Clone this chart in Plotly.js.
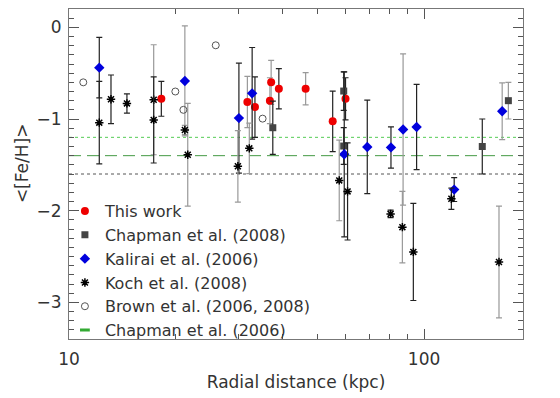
<!DOCTYPE html>
<html>
<head>
<meta charset="utf-8">
<script src="https://cdn.plot.ly/plotly-3.0.1.min.js"></script>
<style>html,body{margin:0;padding:0;background:#fff;}#chart{width:560px;height:398px;}</style>
</head>
<body>
<div id="chart"></div>
<script>
// ---- data (radial distance in kpc, <[Fe/H]>, error) ----
const thisWorkR   = [18.2, 31.8, 33.4, 36.8, 37.1, 39.0, 46.4, 55.3, 60.1];
const thisWorkFe  = [-0.78, -0.815, -0.87, -0.80, -0.60, -0.67, -0.67, -1.025, -0.78];
const thisWorkErr = [0.19, 0.28, 0.33, 0.25, 0.24, 0.22, 0.175, 0.33, 0.23];

const chap08R   = [37.5, 59.4, 59.4, 145.9, 172.8];
const chap08Fe  = [-1.095, -0.695, -1.295, -1.30, -0.80];
const chap08Err = [0.29, 0.21, 0.20, 0.30, 0.20];

const kalR   = [12.17, 21.2, 30.1, 32.8, 59.6, 69.2, 80.7, 87.3, 95.3, 121.6, 166];
const kalFe  = [-0.44, -0.585, -0.99, -0.72, -1.385, -1.305, -1.31, -1.115, -1.087, -1.77, -0.915];
const kalErr = [0.33, 0.60, 0.60, 0.50, 0.90, 0.51, 0.225, 0.825, 0.465, 0.13, 0.31];

const kochR   = [12.17, 13.13, 14.56, 17.32, 17.32, 21.2, 21.6, 29.9, 32.2, 57.7, 60.9, 80.5, 86.9, 93.3, 119.4, 162.6];
const kochFe  = [-1.04, -0.785, -0.83, -1.01, -0.79, -1.12, -1.39, -1.516, -1.32, -1.67, -1.79, -2.035, -2.18, -2.45, -1.87, -2.56];
const kochErr = [0.45, 0.265, 0.105, 0.47, 0.60, 0.05, 0.56, 0.39, 0.275, 0.44, 0.53, 0.04, 0.39, 0.53, 0.115, 0.61];

const brownR  = [10.97, 19.93, 21.0, 25.9, 35.1];
const brownFe = [-0.60, -0.70, -0.90, -0.196, -0.996];

const refLevels = [-1.2, -1.4, -1.6];   // Chapman et al. (2006) mean and spread

const legendNames = ['This work', 'Chapman et al. (2008)', 'Kalirai et al. (2006)',
                     'Koch et al. (2008)', 'Brown et al. (2006, 2008)', 'Chapman et al. (2006)'];

const xTickVals = [10, 100];
const xTickText = ['10', '100'];
const xMinorVals = [20, 30, 40, 50, 60, 70, 80, 90];

// ---- styling of error bars: 'k' = dark, 'g' = grey ----
const thisWorkTone = ['k','g','k','g','g','k','g','k','k'];
const chap08Tone   = ['k','k','k','k','g'];
const kalTone      = ['k','g','k','k','k','k','k','g','k','k','g'];
const kochTone     = ['k','k','k','k','g','g','g','g','g','g','k','k','g','k','k','g'];

const toneColor = {k: '#222222', g: '#999999'};

function split(xs, ys, es, tones, tone) {
  const o = {x: [], y: [], e: []};
  xs.forEach((v, i) => { if (tones[i] === tone) { o.x.push(v); o.y.push(ys[i]); o.e.push(es[i]); } });
  return o;
}

const traces = [];
function addSeries(name, xs, ys, es, tones, marker, order) {
  ['g', 'k'].forEach((tone) => {
    const d = split(xs, ys, es, tones, tone);
    if (!d.x.length) return;
    traces.push({
      type: 'scatter', mode: 'markers', x: d.x, y: d.y, name: name,
      legendgroup: name, showlegend: false,
      marker: marker,
      error_y: {type: 'data', array: d.e, visible: true, color: toneColor[tone], thickness: 1.2, width: 3}
    });
  });
  traces.push({type: 'scatter', mode: 'markers', x: [null], y: [null], name: name,
               legendgroup: name, showlegend: true, legendrank: order, marker: marker});
}

addSeries(legendNames[0], thisWorkR, thisWorkFe, thisWorkErr, thisWorkTone,
          {symbol: 'circle', size: 8, color: '#ee0000'}, 1);
addSeries(legendNames[1], chap08R, chap08Fe, chap08Err, chap08Tone,
          {symbol: 'square', size: 7, color: '#444444'}, 2);
addSeries(legendNames[2], kalR, kalFe, kalErr, kalTone,
          {symbol: 'diamond', size: 8, color: '#0000dd'}, 3);
addSeries(legendNames[3], kochR, kochFe, kochErr, kochTone,
          {symbol: 'asterisk-open', size: 7, color: '#000000', line: {width: 1.5, color: '#000000'}}, 4);

traces.push({type: 'scatter', mode: 'markers', x: brownR, y: brownFe, name: legendNames[4],
             legendrank: 5,
             marker: {symbol: 'circle-open', size: 7, color: '#555555', line: {width: 1, color: '#555555'}}});
traces.push({type: 'scatter', mode: 'markers', x: [null], y: [null], name: legendNames[5],
             legendrank: 6,
             marker: {symbol: 'line-ew-open', size: 7, color: '#33aa33', line: {width: 3, color: '#33aa33'}}});

const shapes = [
  {type: 'line', xref: 'paper', x0: 0, x1: 1, yref: 'y', y0: refLevels[0], y1: refLevels[0],
   line: {color: '#55cc55', width: 1, dash: 'dot'}, layer: 'below'},
  {type: 'line', xref: 'paper', x0: 0, x1: 1, yref: 'y', y0: refLevels[1], y1: refLevels[1],
   line: {color: '#449944', width: 1, dash: '12px,6px'}, layer: 'below'},
  {type: 'line', xref: 'paper', x0: 0, x1: 1, yref: 'y', y0: refLevels[2], y1: refLevels[2],
   line: {color: '#555555', width: 1, dash: 'dot'}, layer: 'below'}
];

const fontFam = 'DejaVu Sans, sans-serif';
const layout = {
  width: 560, height: 398,
  margin: {l: 69, r: 37, t: 9, b: 59},
  paper_bgcolor: '#ffffff', plot_bgcolor: '#ffffff',
  font: {family: fontFam, size: 16, color: '#333333'},
  showlegend: true,
  legend: {x: -0.009, y: 0.439, xanchor: 'left', yanchor: 'top', bgcolor: 'rgba(0,0,0,0)',
           font: {family: fontFam, size: 16, color: '#333333'}, traceorder: 'normal',
           itemwidth: 30, tracegroupgap: 0},
  xaxis: {
    type: 'log', range: [1, Math.log10(190)],
    tickvals: xTickVals, ticktext: xTickText,
    ticks: 'inside', ticklen: 10, tickcolor: '#555555', tickwidth: 1,
    minor: {tickvals: xMinorVals, ticks: 'inside', ticklen: 5, tickcolor: '#555555'},
    showline: true, linecolor: '#777777', linewidth: 1, mirror: 'ticks',
    showgrid: false, zeroline: false,
    ticklabelstandoff: 5,
    tickfont: {size: 17, color: '#333333'},
    title: {text: 'Radial distance (kpc)', font: {size: 17, color: '#333333'}, standoff: 7}
  },
  yaxis: {
    range: [-3.4, 0.2], dtick: 1, tick0: 0,
    ticks: 'inside', ticklen: 10, tickcolor: '#555555', tickwidth: 1,
    minor: {dtick: 0.1, ticks: 'inside', ticklen: 5, tickcolor: '#555555'},
    showline: true, linecolor: '#777777', linewidth: 1, mirror: 'ticks',
    showgrid: false, zeroline: false,
    ticklabelstandoff: 3,
    tickfont: {size: 17, color: '#333333'}
  },
  annotations: [
    {text: '<[Fe/H]>', xref: 'paper', yref: 'paper', x: -0.1035, y: 0.533,
     xanchor: 'center', yanchor: 'middle', textangle: -90, showarrow: false,
     font: {family: fontFam, size: 17, color: '#333333'}}
  ],
  shapes: shapes
};

Plotly.newPlot('chart', traces, layout, {displayModeBar: false, staticPlot: true});
</script>
</body>
</html>
